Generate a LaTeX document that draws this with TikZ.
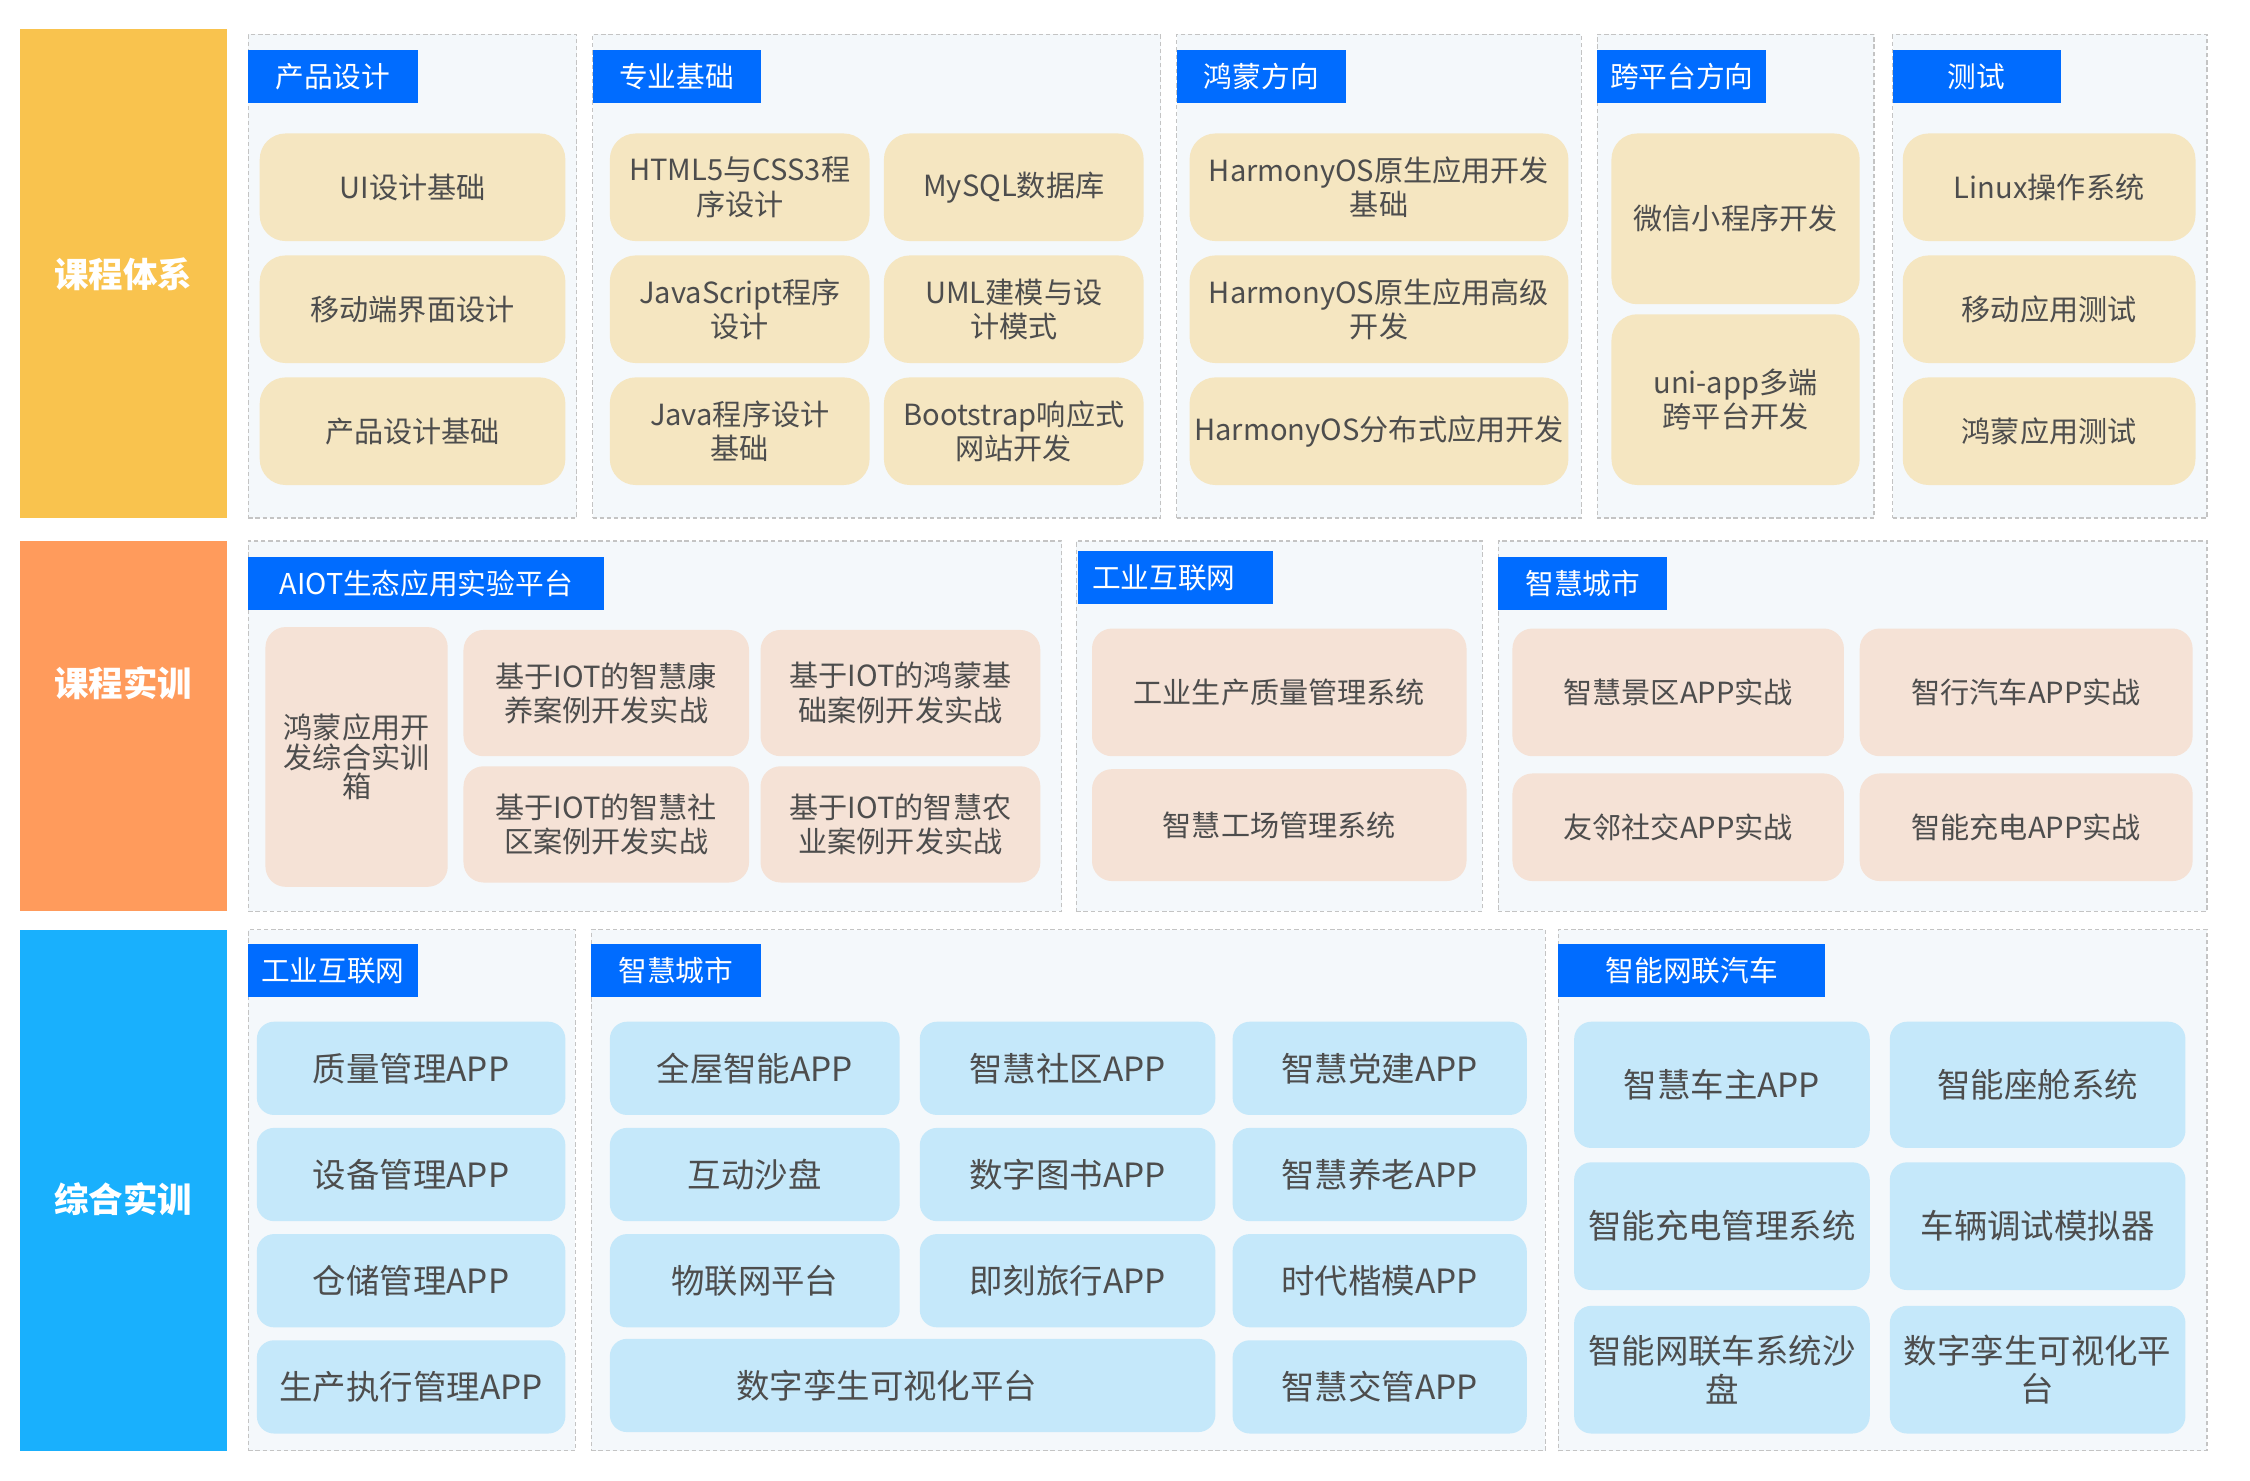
\documentclass[tikz,border=0pt]{standalone}
\usepackage{fontspec}
\setmainfont{Noto Sans CJK SC}
\definecolor{barY}{HTML}{F9C34E}
\definecolor{barO}{HTML}{FF9B5C}
\definecolor{barB}{HTML}{19B0FD}
\definecolor{tabblue}{HTML}{006CFF}
\definecolor{panelbg}{HTML}{F4F8FB}
\definecolor{panelline}{HTML}{C4C4C4}
\definecolor{beige}{HTML}{F5E6C1}
\definecolor{pink}{HTML}{F5E2D6}
\definecolor{lblue}{HTML}{C5E8FA}
\definecolor{txt}{HTML}{4D4D4D}
\newcommand\mybox[7][]{%
  \pgfmathsetmacro\mbw{#5-#3}\pgfmathsetmacro\mbh{#6-#4}%
  \pgfmathsetmacro\mbx{(#3+#5)/2}\pgfmathsetmacro\mby{(#4+#6)/2}%
  \node[#1, minimum width=\mbw pt, minimum height=\mbh pt] (#2) at (\mbx,\mby) {#7};}
\tikzset{
  panel/.style={draw=panelline, fill=panelbg, dash pattern=on 3pt off 2pt, line width=0.8pt, inner sep=0pt},
  tab/.style={fill=tabblue, text=white, font=\fontsize{20pt}{24pt}\selectfont, inner sep=0pt},
  tabtext/.style={text=white, font=\fontsize{20pt}{24pt}\selectfont, inner sep=0pt},
  bar/.style={fill=#1, inner sep=0pt},
  barlabel/.style={text=white, font=\fontsize{24pt}{28pt}\selectfont\bfseries, inner sep=0pt},
  itemA/.style={fill=beige, rounded corners=18pt, text=txt, align=center, inner sep=0pt,
    font=\fontsize{20.3pt}{24pt}\selectfont},
  itemB/.style={fill=pink, rounded corners=14pt, text=txt, align=center, inner sep=0pt,
    font=\fontsize{20.3pt}{24pt}\selectfont},
  itemC/.style={fill=lblue, rounded corners=12pt, text=txt, align=center, inner sep=0pt,
    font=\fontsize{23.3pt}{27pt}\selectfont},
}
\begin{document}
\begin{tikzpicture}[x=1pt,y=-1pt]
\useasboundingbox[fill=white] (0,0) rectangle (1568,1031.4);
% ---------- side bars
\mybox[bar=barY]{barA}{14}{20}{158}{361}{}
\mybox[bar=barO]{barB}{14}{377}{158}{635}{}
\mybox[bar=barB]{barC}{14}{648}{158}{1011}{}
\node[barlabel] (la) at (86,191) {课程体系};
\node[barlabel] (lb) at (86,476) {课程实训};
\node[barlabel] (lc) at (86,836) {综合实训};
% ---------- row 1 panels
\mybox[panel]{p1}{173}{24}{402}{361}{}
\mybox[panel]{p2}{413}{24}{809}{361}{}
\mybox[panel]{p3}{820}{24}{1102}{361}{}
\mybox[panel]{p4}{1113}{24}{1306}{361}{}
\mybox[panel]{p5}{1319}{24}{1538}{361}{}
\mybox[tab]{t1}{173}{35}{291}{72}{产品设计}
\mybox[tab]{t2}{413}{35}{530}{72}{专业基础}
\mybox[tab]{t3}{820}{35}{938}{72}{鸿蒙方向}
\mybox[tab]{t4}{1113}{35}{1231}{72}{跨平台方向}
\mybox[tab]{t5}{1319}{35}{1436}{72}{测试}
% items
\mybox[itemA]{a11}{181}{93}{394}{168}{UI设计基础}
\mybox[itemA]{a12}{181}{178}{394}{253}{移动端界面设计}
\mybox[itemA]{a13}{181}{263}{394}{338}{产品设计基础}
\mybox[itemA]{a21}{425}{93}{606}{168}{HTML5与CSS3程\\序设计}
\mybox[itemA]{a22}{616}{93}{797}{168}{MySQL数据库}
\mybox[itemA]{a23}{425}{178}{606}{253}{JavaScript程序\\设计}
\mybox[itemA]{a24}{616}{178}{797}{253}{UML建模与设\\计模式}
\mybox[itemA]{a25}{425}{263}{606}{338}{Java程序设计\\基础}
\mybox[itemA]{a26}{616}{263}{797}{338}{Bootstrap响应式\\网站开发}
\mybox[itemA]{a31}{829}{93}{1093}{168}{HarmonyOS原生应用开发\\基础}
\mybox[itemA]{a32}{829}{178}{1093}{253}{HarmonyOS原生应用高级\\开发}
\mybox[itemA]{a33}{829}{263}{1093}{338}{HarmonyOS分布式应用开发}
\mybox[itemA]{a41}{1123}{93}{1296}{212}{微信小程序开发}
\mybox[itemA]{a42}{1123}{219}{1296}{338}{uni-app多端\\跨平台开发}
\mybox[itemA]{a51}{1326}{93}{1530}{168}{Linux操作系统}
\mybox[itemA]{a52}{1326}{178}{1530}{253}{移动应用测试}
\mybox[itemA]{a53}{1326}{263}{1530}{338}{鸿蒙应用测试}
% ---------- row 2 panels
\mybox[panel]{q1}{173}{377}{740}{635}{}
\mybox[panel]{q2}{750}{377}{1033}{635}{}
\mybox[panel]{q3}{1044}{377}{1538}{635}{}
\mybox[tab]{u1}{173}{388}{421}{425}{AIOT生态应用实验平台}
\mybox[tab]{u2}{751}{384}{887}{421}{}
\node[tabtext] (u2t) at (811,402.5) {工业互联网};
\mybox[tab]{u3}{1044}{388}{1162}{425}{智慧城市}
\mybox[itemB, font=\fontsize{20.3pt}{20.5pt}\selectfont]{b10}{185}{437}{312}{618}{鸿蒙应用开\\发综合实训\\箱}
\mybox[itemB]{b11}{323}{439}{522}{527}{基于IOT的智慧康\\养案例开发实战}
\mybox[itemB]{b12}{530}{439}{725}{527}{基于IOT的鸿蒙基\\础案例开发实战}
\mybox[itemB]{b13}{323}{534}{522}{615}{基于IOT的智慧社\\区案例开发实战}
\mybox[itemB]{b14}{530}{534}{725}{615}{基于IOT的智慧农\\业案例开发实战}
\mybox[itemB]{b21}{761}{438}{1022}{527}{工业生产质量管理系统}
\mybox[itemB]{b22}{761}{536}{1022}{614}{智慧工场管理系统}
\mybox[itemB]{b31}{1054}{438}{1285}{527}{智慧景区APP实战}
\mybox[itemB]{b32}{1296}{438}{1528}{527}{智行汽车APP实战}
\mybox[itemB]{b33}{1054}{539}{1285}{614}{友邻社交APP实战}
\mybox[itemB]{b34}{1296}{539}{1528}{614}{智能充电APP实战}
% ---------- row 3 panels
\mybox[panel]{r1}{173}{648}{401}{1011}{}
\mybox[panel]{r2}{412}{648}{1077}{1011}{}
\mybox[panel]{r3}{1086}{648}{1538}{1011}{}
\mybox[tab]{v1}{173}{658}{291}{695}{工业互联网}
\mybox[tab]{v2}{412}{658}{530}{695}{智慧城市}
\mybox[tab]{v3}{1086}{658}{1272}{695}{智能网联汽车}
\mybox[itemC]{c11}{179}{712}{394}{777}{质量管理APP}
\mybox[itemC]{c12}{179}{786}{394}{851}{设备管理APP}
\mybox[itemC]{c13}{179}{860}{394}{925}{仓储管理APP}
\mybox[itemC]{c14}{179}{934}{394}{999}{生产执行管理APP}
\mybox[itemC]{c21}{425}{712}{627}{777}{全屋智能APP}
\mybox[itemC]{c22}{641}{712}{847}{777}{智慧社区APP}
\mybox[itemC]{c23}{859}{712}{1064}{777}{智慧党建APP}
\mybox[itemC]{c24}{425}{786}{627}{851}{互动沙盘}
\mybox[itemC]{c25}{641}{786}{847}{851}{数字图书APP}
\mybox[itemC]{c26}{859}{786}{1064}{851}{智慧养老APP}
\mybox[itemC]{c27}{425}{860}{627}{925}{物联网平台}
\mybox[itemC]{c28}{641}{860}{847}{925}{即刻旅行APP}
\mybox[itemC]{c29}{859}{860}{1064}{925}{时代楷模APP}
\mybox[itemC]{c30}{425}{933}{847}{998}{数字孪生可视化平台\hspace{36pt}}
\mybox[itemC]{c31}{859}{934}{1064}{999}{智慧交管APP}
\mybox[itemC]{c41}{1097}{712}{1303}{800}{智慧车主APP}
\mybox[itemC]{c42}{1317}{712}{1523}{800}{智能座舱系统}
\mybox[itemC]{c43}{1097}{810}{1303}{899}{智能充电管理系统}
\mybox[itemC]{c44}{1317}{810}{1523}{899}{车辆调试模拟器}
\mybox[itemC]{c45}{1097}{910}{1303}{999}{智能网联车系统沙\\盘}
\mybox[itemC]{c46}{1317}{910}{1523}{999}{数字孪生可视化平\\台}
\end{tikzpicture}
\end{document}
